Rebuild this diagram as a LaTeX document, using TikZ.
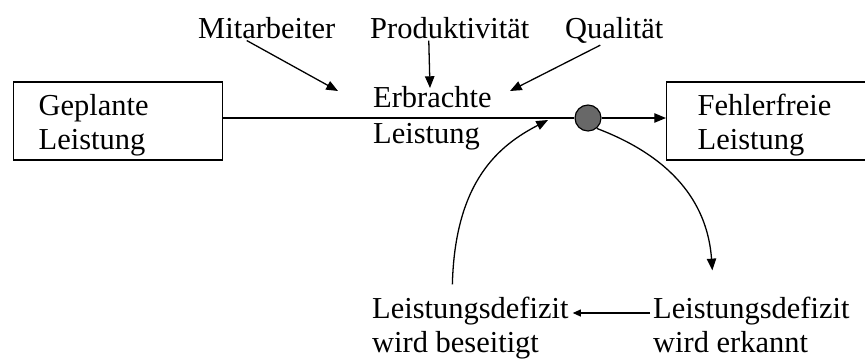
\documentclass[tikz,border=0pt]{standalone}
\usepackage{fontspec}
\setmainfont{Liberation Serif}
\usepackage{tikz}
\usetikzlibrary{positioning, arrows.meta, calc}
\definecolor{dotgray}{HTML}{686868}

\begin{document}
\begin{tikzpicture}[
  x=0.03cm, y=-0.03cm,
  txt/.style={font=\fontsize{26}{28}\selectfont, inner sep=0pt, anchor=base west, align=left},
  box/.style={draw, line width=1.2pt, minimum height=2.34cm, font=\fontsize{26}{29}\selectfont,
    align=left, anchor=west, execute at begin node={\rule{0pt}{0.9cm}}},
  arr/.style={line width=1.1pt, -{Triangle[length=10pt, width=8pt]}},
  arrs/.style={line width=1.1pt, -{Triangle[length=7pt, width=6pt]}},
]
\useasboundingbox (0,0) rectangle (865,360);

% Kaesten
\node[box, text width=4.77cm, inner xsep=0.75cm] (gepl) at (13,121) {Geplante\\Leistung};
\node[box, text width=5.94cm, inner xsep=0.93cm] (fehl) at (666,121) {Fehlerfreie\\Leistung};

% Einflussgroessen
\node[txt] (mit) at (198,38) {Mitarbeiter};
\node[txt] (prod) at (370,38) {Produktivität};
\node[txt] (qual) at (565,38) {Qualität};
\node[txt] (erbr) at (373,143) {Erbrachte\\[2pt]Leistung};

\coordinate (mitE) at (338,91);
\coordinate (prodE) at (430,88);
\coordinate (qualE) at (510,91);

\draw[arr] ($(mit.south)+(-20,2)$) -- (mitE);
\draw[arr] ($(prod.south)+(-21,2)$) -- (prodE);
\draw[arr] ($(qual.south)+(-14,2)$) -- (qualE);

% Hauptstrang
\node[circle, draw, line width=1pt, fill=dotgray, minimum size=0.78cm, inner sep=0pt] (dot) at (588,118) {};
\draw[line width=1.1pt] (gepl.east |- dot) -- (dot.west);
\draw[arr] (dot.east) -- (fehl.west |- dot);

% Regelkreis
\node[txt] (besei) at (372,352) {Leistungsdefizit\\[1pt]wird beseitigt};
\node[txt] (erk) at (653,352) {Leistungsdefizit\\[1pt]wird erkannt};
\coordinate (back) at (548,120);

\draw[arr] (dot.-50) .. controls (680,160) and (708,210) .. ($(erk.north)+(-39,-26)$);
\draw[arrs] ($(erk.base west)+(-3,-39)$) -- ($(besei.base east)+(4,-39)$);
\draw[arr] ($(besei.north)+(-18,-12)$) .. controls (455,180) and (500,145) .. (back);

\end{tikzpicture}
\end{document}
